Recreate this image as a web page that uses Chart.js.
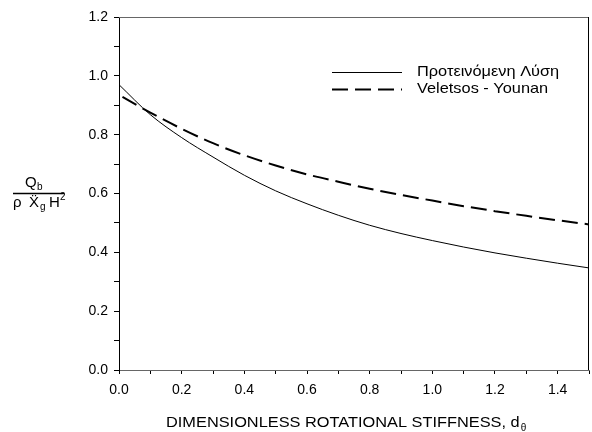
<!DOCTYPE html>
<html>
<head>
<meta charset="utf-8">
<script src="https://cdn.jsdelivr.net/npm/chart.js@4/dist/chart.umd.min.js"></script>
<style>
    html, body { margin: 0; padding: 0; background: #fff; }
    #wrap { width: 592px; height: 432px; }
</style>
</head>
<body>
<div id="wrap"><canvas id="stiffnessChart" width="592" height="432"></canvas></div>
<script>
// Δεδομένα (διαβασμένα από το γράφημα)
const stiffness = [0.0, 0.1, 0.2, 0.3, 0.4, 0.5, 0.6, 0.7, 0.8, 0.9, 1.0, 1.1, 1.2, 1.3, 1.4, 1.5];
const proposed = [0.970, 0.868, 0.790, 0.724, 0.662, 0.609, 0.565, 0.526, 0.492, 0.464, 0.440, 0.418, 0.398, 0.380, 0.363, 0.347];
const veletsos = [0.935, 0.875, 0.820, 0.771, 0.730, 0.695, 0.665, 0.640, 0.616, 0.595, 0.576, 0.557, 0.540, 0.524, 0.509, 0.495];
const seriesNames = ['Προτεινόμενη Λύση', 'Veletsos - Younan'];
const xTickLabels = ['0.0', '0.2', '0.4', '0.6', '0.8', '1.0', '1.2', '1.4'];
const yTickLabels = ['0.0', '0.2', '0.4', '0.6', '0.8', '1.0', '1.2'];

const FONT = 'Arial, "Liberation Sans", sans-serif';
const STRETCH = 1.09; // το πρωτότυπο είναι λίγο τεντωμένο οριζόντια

function toPoints(ys) {
    return stiffness.map((x, i) => ({ x: x, y: ys[i] }));
}

function wideText(ctx, text, x, y) {
    ctx.save();
    ctx.translate(x, y);
    ctx.scale(STRETCH, 1);
    ctx.fillText(text, 0, 0);
    const w = ctx.measureText(text).width * STRETCH;
    ctx.restore();
    return w;
}

// Πλαίσιο, υπόμνημα και τίτλοι αξόνων
const extras = {
    id: 'extras',
    afterDraw(chart) {
        const { ctx, chartArea: a } = chart;
        ctx.save();

        // πάνω και δεξιά πλευρά πλαισίου
        ctx.lineWidth = 1;
        ctx.strokeStyle = '#666';
        ctx.beginPath();
        ctx.moveTo(a.left, Math.round(a.top) + 0.5);
        ctx.lineTo(a.right, Math.round(a.top) + 0.5);
        ctx.stroke();
        ctx.strokeStyle = '#000';
        ctx.beginPath();
        ctx.moveTo(Math.round(a.right) - 0.5, a.top);
        ctx.lineTo(Math.round(a.right) - 0.5, a.bottom);
        ctx.stroke();

        // υπόμνημα
        ctx.font = '15px ' + FONT;
        ctx.textBaseline = 'middle';
        ctx.textAlign = 'left';
        ctx.fillStyle = '#000';
        chart.data.datasets.forEach((ds, i) => {
            const y = 72 + i * 17;
            ctx.strokeStyle = ds.borderColor;
            ctx.lineWidth = ds.borderWidth;
            ctx.setLineDash(ds.borderDash || []);
            ctx.beginPath();
            ctx.moveTo(332, y + 0.5);
            ctx.lineTo(402, y + 0.5);
            ctx.stroke();
            wideText(ctx, ds.label, 417, y);
        });
        ctx.setLineDash([]);

        // τίτλος άξονα y: Q_b / (ρ Ẍ_g H^2)
        ctx.textBaseline = 'alphabetic';
        ctx.font = '15px ' + FONT;
        ctx.fillText('Q', 25, 187);
        ctx.font = '10px ' + FONT;
        ctx.fillText('b', 37, 190);
        ctx.lineWidth = 1.5;
        ctx.strokeStyle = '#000';
        ctx.beginPath();
        ctx.moveTo(13, 193.5);
        ctx.lineTo(64, 193.5);
        ctx.stroke();
        ctx.font = '15px ' + FONT;
        ctx.fillText('\u03C1', 13, 207);
        ctx.fillText('X\u0308', 29, 207);
        ctx.font = '10px ' + FONT;
        ctx.fillText('g', 40, 210);
        ctx.font = '15px ' + FONT;
        ctx.fillText('H', 49, 207);
        ctx.font = '10px ' + FONT;
        ctx.fillText('2', 60, 200);

        // τίτλος άξονα x
        ctx.font = '15px ' + FONT;
        const w = wideText(ctx, 'DIMENSIONLESS ROTATIONAL STIFFNESS, d', 166, 427);
        ctx.font = '10px ' + FONT;
        ctx.fillText('\u03B8', 166 + w + 1, 431);

        ctx.restore();
    }
};

const ctx = document.getElementById('stiffnessChart').getContext('2d');
const chart = new Chart(ctx, {
    type: 'line',
    data: {
        datasets: [{
            label: seriesNames[0],
            data: toPoints(proposed),
            borderColor: '#000',
            borderWidth: 1,
            pointRadius: 0,
            cubicInterpolationMode: 'monotone',
            fill: false
        }, {
            label: seriesNames[1],
            data: toPoints(veletsos),
            borderColor: '#000',
            borderWidth: 2,
            borderDash: [16, 7],
            borderDashOffset: 19,
            pointRadius: 0,
            cubicInterpolationMode: 'monotone',
            fill: false
        }]
    },
    options: {
        responsive: false,
        animation: false,
        devicePixelRatio: 1,
        layout: { padding: { top: 17, right: 3, left: 0, bottom: 0 } },
        plugins: {
            legend: { display: false },
            tooltip: { enabled: false }
        },
        scales: {
            x: {
                type: 'linear',
                min: 0,
                max: 1.5,
                afterFit: (scale) => {
                    scale.height = 62;
                    scale.paddingLeft = 0;
                    scale.paddingRight = 0;
                },
                border: { display: true, color: '#666', width: 1 },
                grid: { drawOnChartArea: false, drawTicks: true, tickLength: 4, color: '#000' },
                ticks: {
                    stepSize: 0.1,
                    autoSkip: false,
                    maxRotation: 0,
                    padding: 8,
                    color: '#000',
                    font: { family: FONT, size: 14 },
                    callback: (v) => {
                        const k = Math.round(v * 10);
                        return k % 2 === 0 ? (xTickLabels[k / 2] || '') : '';
                    }
                }
            },
            y: {
                min: 0,
                max: 1.2,
                afterFit: (scale) => { scale.width = 119; },
                border: { display: true, color: '#000', width: 1 },
                grid: { drawOnChartArea: false, drawTicks: true, tickLength: 5, color: '#000' },
                ticks: {
                    stepSize: 0.1,
                    autoSkip: false,
                    padding: 6,
                    color: '#000',
                    font: { family: FONT, size: 14 },
                    callback: (v) => {
                        const k = Math.round(v * 10);
                        return k % 2 === 0 ? (yTickLabels[k / 2] || '') : '';
                    }
                }
            }
        }
    },
    plugins: [extras]
});
</script>
</body>
</html>
